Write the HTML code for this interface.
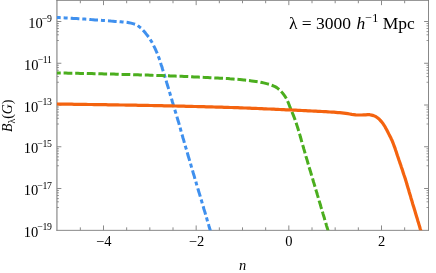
<!DOCTYPE html>
<html><head><meta charset="utf-8"><title>plot</title>
<style>
html,body{margin:0;padding:0;background:#fff;}
body{width:436px;height:273px;overflow:hidden;font-family:"Liberation Serif",serif;}
svg{display:block;will-change:transform;}
</style></head><body>
<svg width="436" height="273" viewBox="0 0 436 273">
<rect width="436" height="273" fill="#fff"/>
<g stroke-width="1" fill="none" stroke-linecap="square"><path d="M56.95,0.25 V230.35" stroke="#727272"/><path d="M428.5,0.25 V230.35" stroke="#888888"/><path d="M56.95,0.25 H428.5" stroke="#777777"/><path d="M56.95,230.35 H428.5" stroke="#8a8a8a"/></g>
<path d="M80.33,230.35 v-3.0 M80.33,0.25 v3.0 M103.50,230.35 v-4.9 M103.50,0.25 v4.9 M126.67,230.35 v-3.0 M126.67,0.25 v3.0 M149.83,230.35 v-3.0 M149.83,0.25 v3.0 M173.00,230.35 v-3.0 M173.00,0.25 v3.0 M196.17,230.35 v-4.9 M196.17,0.25 v4.9 M219.33,230.35 v-3.0 M219.33,0.25 v3.0 M242.50,230.35 v-3.0 M242.50,0.25 v3.0 M265.67,230.35 v-3.0 M265.67,0.25 v3.0 M288.83,230.35 v-4.9 M288.83,0.25 v4.9 M312.00,230.35 v-3.0 M312.00,0.25 v3.0 M335.17,230.35 v-3.0 M335.17,0.25 v3.0 M358.33,230.35 v-3.0 M358.33,0.25 v3.0 M381.50,230.35 v-4.9 M381.50,0.25 v4.9 M404.67,230.35 v-3.0 M404.67,0.25 v3.0 M56.95,188.50 h4.4 M428.5,188.50 h-4.4 M56.95,146.75 h4.4 M428.5,146.75 h-4.4 M56.95,105.00 h4.4 M428.5,105.00 h-4.4 M56.95,63.25 h4.4 M428.5,63.25 h-4.4 M56.95,21.50 h4.4 M428.5,21.50 h-4.4" stroke="#8a8a8a" stroke-width="1" fill="none"/>
<path d="M56.95,23.50 h2.0 M428.5,23.50 h-2.0 M56.95,25.80 h2.0 M428.5,25.80 h-2.0 M56.95,28.50 h2.0 M428.5,28.50 h-2.0 M56.95,31.60 h2.0 M428.5,31.60 h-2.0 M56.95,34.80 h2.0 M428.5,34.80 h-2.0 M56.95,40.50 h2.0 M428.5,40.50 h-2.0 M56.95,65.25 h2.0 M428.5,65.25 h-2.0 M56.95,67.55 h2.0 M428.5,67.55 h-2.0 M56.95,70.25 h2.0 M428.5,70.25 h-2.0 M56.95,73.35 h2.0 M428.5,73.35 h-2.0 M56.95,76.55 h2.0 M428.5,76.55 h-2.0 M56.95,82.25 h2.0 M428.5,82.25 h-2.0 M56.95,107.00 h2.0 M428.5,107.00 h-2.0 M56.95,109.30 h2.0 M428.5,109.30 h-2.0 M56.95,112.00 h2.0 M428.5,112.00 h-2.0 M56.95,115.10 h2.0 M428.5,115.10 h-2.0 M56.95,118.30 h2.0 M428.5,118.30 h-2.0 M56.95,124.00 h2.0 M428.5,124.00 h-2.0 M56.95,148.75 h2.0 M428.5,148.75 h-2.0 M56.95,151.05 h2.0 M428.5,151.05 h-2.0 M56.95,153.75 h2.0 M428.5,153.75 h-2.0 M56.95,156.85 h2.0 M428.5,156.85 h-2.0 M56.95,160.05 h2.0 M428.5,160.05 h-2.0 M56.95,165.75 h2.0 M428.5,165.75 h-2.0 M56.95,190.50 h2.0 M428.5,190.50 h-2.0 M56.95,192.80 h2.0 M428.5,192.80 h-2.0 M56.95,195.50 h2.0 M428.5,195.50 h-2.0 M56.95,198.60 h2.0 M428.5,198.60 h-2.0 M56.95,201.80 h2.0 M428.5,201.80 h-2.0 M56.95,207.50 h2.0 M428.5,207.50 h-2.0" stroke="#707070" stroke-width="0.7" fill="none"/>
<clipPath id="c"><rect x="56.95" y="0.25" width="371.55" height="230.1"/></clipPath>
<g clip-path="url(#c)" fill="none" stroke-width="3" stroke-linejoin="round">
<path d="M57.2,17.5 59.2,17.6 61.2,17.7 63.2,17.8 65.2,17.9 67.2,18.0 69.2,18.1 71.2,18.3 73.2,18.4 75.2,18.5 77.2,18.6 79.2,18.7 81.2,18.9 83.2,19.0 85.2,19.1 87.1,19.3 89.1,19.4 91.1,19.6 93.1,19.7 95.1,19.9 97.1,20.0 99.1,20.2 101.1,20.3 103.1,20.5 105.1,20.6 107.1,20.8 109.1,20.9 111.1,21.1 113.1,21.2 115.1,21.4 117.1,21.5 119.1,21.6 121.1,21.8 123.0,22.0 125.0,22.2 127.0,22.4 129.0,22.7 131.0,23.1 132.9,23.6 134.8,24.2 136.6,25.1 138.3,26.1 139.9,27.3 141.4,28.6 142.8,30.1 144.2,31.6 145.5,33.1 146.7,34.6 148.0,36.2 149.1,37.9 150.3,39.5 151.3,41.2 152.3,42.9 153.2,44.7 154.1,46.5 155.0,48.3 155.8,50.2 156.6,52.0 157.4,53.8 158.1,55.7 158.8,57.6 159.5,59.4 160.1,61.3 160.7,63.2 161.3,65.2 162.0,67.1 162.5,69.0 163.1,70.9 163.7,72.8 164.3,74.7 164.9,76.6 165.5,78.5 166.1,80.4 166.6,82.4 167.2,84.3 167.8,86.2 168.4,88.1 168.9,90.0 169.5,91.9 170.1,93.9 170.6,95.8 171.2,97.7 171.8,99.6 172.3,101.5 172.9,103.4 173.5,105.4 174.1,107.3 174.7,109.2 175.2,111.1 175.8,113.0 176.4,114.9 177.0,116.8 177.5,118.8 178.1,120.7 178.7,122.6 179.2,124.5 179.7,126.5 180.3,128.4 180.8,130.3 181.4,132.2 181.9,134.2 182.5,136.1 183.0,138.0 183.6,139.9 184.1,141.8 184.7,143.8 185.2,145.7 185.8,147.6 186.4,149.5 186.9,151.4 187.5,153.4 188.0,155.3 188.6,157.2 189.2,159.1 189.7,161.0 190.3,163.0 190.9,164.9 191.4,166.8 192.0,168.7 192.6,170.6 193.1,172.5 193.7,174.5 194.3,176.4 194.8,178.3 195.4,180.2 196.0,182.1 196.5,184.1 197.1,186.0 197.7,187.9 198.2,189.8 198.8,191.7 199.4,193.6 200.0,195.6 200.5,197.5 201.1,199.4 201.7,201.3 202.2,203.2 202.8,205.1 203.4,207.1 203.9,209.0 204.5,210.9 205.1,212.8 205.6,214.7 206.2,216.6 206.8,218.6 207.3,220.5 207.9,222.4 208.5,224.3 209.0,226.2 209.6,228.2 210.3,230.5" stroke="#3f90ee" stroke-dasharray="5.7 5.95 1 6.05" stroke-linecap="square" stroke-dashoffset="3.7"/>
<path d="M56.0,73.0 58.0,73.0 60.0,73.0 62.0,73.1 64.0,73.1 66.0,73.1 68.0,73.2 70.0,73.2 72.0,73.2 74.0,73.3 76.0,73.3 78.0,73.3 80.0,73.4 82.0,73.4 84.0,73.4 86.0,73.5 88.0,73.5 90.0,73.6 92.0,73.6 94.0,73.7 96.0,73.7 98.0,73.7 100.0,73.8 102.0,73.8 104.0,73.9 106.0,73.9 108.0,74.0 110.0,74.0 112.0,74.1 114.0,74.1 116.0,74.2 118.0,74.3 120.0,74.3 122.0,74.4 124.0,74.4 126.0,74.5 128.0,74.5 130.0,74.6 132.0,74.7 134.0,74.7 136.0,74.8 138.0,74.8 140.0,74.9 142.0,75.0 144.0,75.0 146.0,75.1 148.0,75.1 150.0,75.2 152.0,75.3 154.0,75.3 156.0,75.4 158.0,75.5 160.0,75.5 162.0,75.6 164.0,75.7 166.0,75.7 168.0,75.8 170.0,75.9 172.0,75.9 174.0,76.0 176.0,76.1 178.0,76.2 180.0,76.3 182.0,76.3 184.0,76.4 186.0,76.5 187.9,76.6 189.9,76.7 191.9,76.8 193.9,76.9 195.9,77.0 197.9,77.1 199.9,77.2 201.9,77.3 203.9,77.4 205.9,77.5 207.9,77.6 209.9,77.7 211.9,77.8 213.9,77.9 215.9,78.0 217.9,78.1 219.9,78.2 221.9,78.3 223.9,78.4 225.9,78.5 227.9,78.6 229.9,78.8 231.9,78.9 233.9,79.1 235.9,79.2 237.9,79.4 239.9,79.6 241.9,79.8 243.8,80.0 245.8,80.2 247.8,80.4 249.8,80.7 251.8,80.9 253.8,81.2 255.8,81.5 257.7,81.8 259.7,82.1 261.7,82.5 263.6,82.9 265.6,83.4 267.5,83.9 269.4,84.5 271.3,85.1 273.2,85.8 275.1,86.6 276.8,87.6 278.3,88.8 279.8,90.2 281.2,91.6 282.6,93.1 283.8,94.7 285.0,96.3 286.0,98.0 286.9,99.8 287.8,101.6 288.6,103.4 289.3,105.3 290.0,107.2 290.8,109.0 291.5,110.9 292.3,112.7 293.1,114.6 293.8,116.4 294.5,118.3 295.2,120.2 295.8,122.1 296.5,124.0 297.1,125.9 297.7,127.8 298.3,129.7 298.8,131.6 299.4,133.5 300.0,135.4 300.5,137.3 301.1,139.3 301.6,141.2 302.2,143.1 302.7,145.0 303.3,147.0 303.8,148.9 304.4,150.8 304.9,152.7 305.5,154.7 306.0,156.6 306.6,158.5 307.2,160.4 307.7,162.3 308.3,164.3 308.9,166.2 309.4,168.1 310.0,170.0 310.6,171.9 311.1,173.8 311.7,175.8 312.3,177.7 312.9,179.6 313.4,181.5 314.0,183.4 314.6,185.4 315.1,187.3 315.7,189.2 316.3,191.1 316.9,193.0 317.4,194.9 318.0,196.9 318.6,198.8 319.1,200.7 319.7,202.6 320.3,204.5 320.8,206.4 321.4,208.4 322.0,210.3 322.6,212.2 323.1,214.1 323.7,216.0 324.3,217.9 324.8,219.9 325.4,221.8 326.0,223.7 326.5,225.6 327.1,227.5 327.7,229.4 328.0,230.5" stroke="#4bae1e" stroke-dasharray="5.75 5.85" stroke-linecap="square" stroke-dashoffset="2.5"/>
<path d="M56.0,104.0 58.0,104.0 60.0,104.1 62.0,104.1 64.0,104.1 66.0,104.1 68.0,104.2 70.0,104.2 72.0,104.2 74.0,104.3 76.0,104.3 78.0,104.3 80.0,104.4 82.0,104.4 84.0,104.4 86.0,104.4 88.0,104.5 90.0,104.5 92.0,104.5 94.0,104.6 96.0,104.6 98.0,104.6 100.0,104.7 102.0,104.7 104.0,104.7 106.0,104.7 108.0,104.8 110.0,104.8 112.0,104.8 114.0,104.9 116.0,104.9 118.0,104.9 120.0,105.0 122.0,105.0 124.0,105.0 126.0,105.1 128.0,105.1 130.0,105.1 132.0,105.1 134.0,105.2 136.0,105.2 138.0,105.3 140.0,105.3 142.0,105.3 144.0,105.4 146.0,105.4 148.0,105.4 150.0,105.5 152.0,105.5 154.0,105.6 156.0,105.6 158.0,105.6 160.0,105.7 162.0,105.7 164.0,105.8 166.0,105.8 168.0,105.8 170.0,105.9 172.0,105.9 174.0,106.0 176.0,106.0 178.0,106.1 180.0,106.1 182.0,106.2 184.0,106.2 186.0,106.3 188.0,106.3 190.0,106.4 192.0,106.4 194.0,106.5 196.0,106.5 198.0,106.6 200.0,106.6 202.0,106.7 204.0,106.7 206.0,106.8 208.0,106.8 210.0,106.9 212.0,106.9 214.0,107.0 216.0,107.1 218.0,107.1 220.0,107.2 222.0,107.2 224.0,107.3 226.0,107.3 228.0,107.4 230.0,107.5 232.0,107.5 234.0,107.6 236.0,107.7 238.0,107.7 240.0,107.8 242.0,107.9 244.0,108.0 246.0,108.0 248.0,108.1 249.9,108.2 251.9,108.3 253.9,108.4 255.9,108.4 257.9,108.5 259.9,108.6 261.9,108.7 263.9,108.8 265.9,108.9 267.9,109.0 269.9,109.0 271.9,109.1 273.9,109.2 275.9,109.3 277.9,109.4 279.9,109.5 281.9,109.6 283.9,109.7 285.9,109.8 287.9,109.9 289.9,109.9 291.9,110.0 293.9,110.1 295.9,110.2 297.9,110.3 299.9,110.4 301.9,110.5 303.9,110.6 305.9,110.7 307.9,110.8 309.9,110.9 311.9,111.0 313.9,111.1 315.9,111.2 317.9,111.3 319.9,111.4 321.9,111.5 323.9,111.6 325.9,111.7 327.9,111.8 329.9,112.0 331.9,112.1 333.9,112.2 335.8,112.4 337.8,112.6 339.8,112.7 341.8,112.9 343.8,113.1 345.8,113.4 347.8,113.7 349.7,114.0 351.7,114.4 353.7,114.6 355.7,114.9 357.7,115.0 359.7,115.0 361.7,115.0 363.7,114.9 365.7,114.8 367.7,114.6 369.7,114.7 371.6,115.1 373.6,115.6 375.4,116.4 377.1,117.5 378.7,118.7 380.1,120.1 381.4,121.6 382.7,123.2 383.8,124.8 384.9,126.5 385.8,128.2 386.8,130.0 387.7,131.8 388.6,133.6 389.5,135.4 390.5,137.2 391.3,139.0 392.2,140.8 392.9,142.6 393.6,144.5 394.3,146.4 395.0,148.2 395.6,150.1 396.3,152.0 396.9,153.9 397.5,155.8 398.2,157.7 398.8,159.6 399.5,161.5 400.1,163.4 400.8,165.3 401.4,167.2 402.1,169.1 402.7,171.0 403.3,172.9 403.9,174.8 404.6,176.7 405.2,178.6 405.8,180.5 406.4,182.4 406.9,184.3 407.5,186.2 408.1,188.2 408.7,190.1 409.2,192.0 409.8,193.9 410.4,195.8 410.9,197.7 411.5,199.7 412.1,201.6 412.6,203.5 413.2,205.4 413.8,207.3 414.4,209.2 415.0,211.2 415.5,213.1 416.1,215.0 416.7,216.9 417.3,218.8 417.8,220.7 418.4,222.6 419.0,224.6 419.6,226.5 420.1,228.4 420.7,230.3 421.2,231.9" stroke="#f4630f" stroke-width="3.2"/>
</g>
<g font-family="'Liberation Serif', serif" fill="#000"><text x="51.7" y="236.75" text-anchor="end" font-size="14.5">10<tspan font-size="9.8" dy="-6.4" dx="-0.9" letter-spacing="-0.3">−19</tspan></text>
<text x="51.7" y="195.00" text-anchor="end" font-size="14.5">10<tspan font-size="9.8" dy="-6.4" dx="-0.9" letter-spacing="-0.3">−17</tspan></text>
<text x="51.7" y="153.25" text-anchor="end" font-size="14.5">10<tspan font-size="9.8" dy="-6.4" dx="-0.9" letter-spacing="-0.3">−15</tspan></text>
<text x="51.7" y="111.50" text-anchor="end" font-size="14.5">10<tspan font-size="9.8" dy="-6.4" dx="-0.9" letter-spacing="-0.3">−13</tspan></text>
<text x="51.7" y="69.75" text-anchor="end" font-size="14.5">10<tspan font-size="9.8" dy="-6.4" dx="-0.9" letter-spacing="-0.3">−11</tspan></text>
<text x="51.7" y="28.00" text-anchor="end" font-size="14.5">10<tspan font-size="9.8" dy="-6.4" dx="-0.9" letter-spacing="-0.3">−9</tspan></text>
<text x="103.80" y="246.3" text-anchor="middle" font-size="14.5">−4</text>
<text x="196.47" y="246.3" text-anchor="middle" font-size="14.5">−2</text>
<text x="288.83" y="246.3" text-anchor="middle" font-size="14.5">0</text>
<text x="381.50" y="246.3" text-anchor="middle" font-size="14.5">2</text>
<text x="242.7" y="269.6" text-anchor="middle" font-size="14.5" font-style="italic">n</text>
<text transform="translate(12.2,115.8) rotate(-90)" text-anchor="middle" font-size="13.9"><tspan font-style="italic">B</tspan><tspan font-size="9.8" dy="3">λ</tspan><tspan dy="-3">(</tspan><tspan font-style="italic">G</tspan>)</text>
<text x="288.9" y="28.8" font-size="17.5">λ = 3000 <tspan font-style="italic" dx="1.2">h</tspan><tspan font-size="12.2" dy="-6.6">−1</tspan><tspan dy="6.6"> Mpc</tspan></text></g>
</svg>
</body></html>
